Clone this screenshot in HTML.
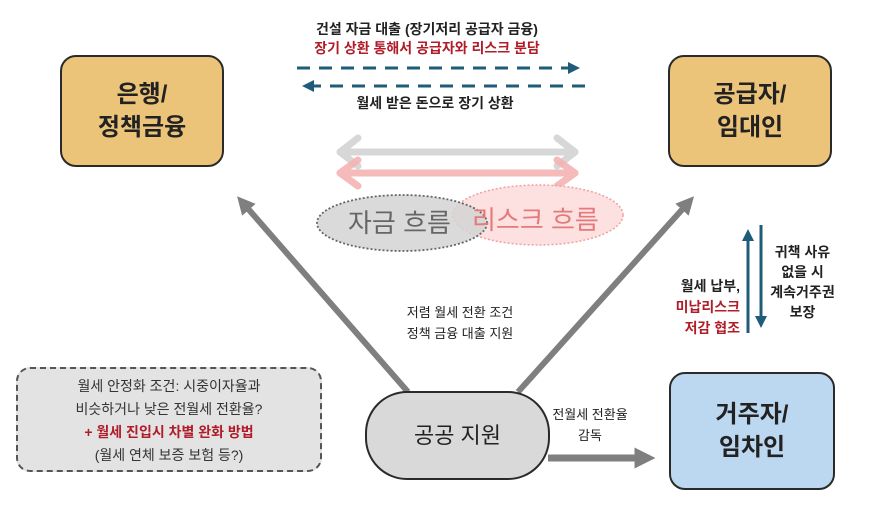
<!DOCTYPE html>
<html><head><meta charset="utf-8"><style>
html,body{margin:0;padding:0;background:#fff;}
body{width:893px;height:516px;position:relative;overflow:hidden;font-family:"Liberation Sans","Noto Sans CJK KR",sans-serif;}
.t{position:absolute;white-space:nowrap;text-align:center;font-weight:bold;color:#222;}
.box{position:absolute;border:2px solid #2a2a2a;border-radius:16px;display:flex;align-items:center;justify-content:center;text-align:center;font-weight:bold;font-size:24px;line-height:33px;color:#222;}
.red{color:#b01c28;}
</style></head><body>
<svg width="893" height="516" style="position:absolute;left:0;top:0">
<defs>
<marker id="ab" markerWidth="4" markerHeight="4" refX="2" refY="2" orient="auto" markerUnits="strokeWidth"><path d="M0,0 L4,2 L0,4z" fill="#1f5c7a"/></marker>
<marker id="ag" markerWidth="3" markerHeight="3" refX="1.5" refY="1.5" orient="auto" markerUnits="strokeWidth"><path d="M0,0 L3,1.5 L0,3z" fill="#7f7f7f"/></marker>
</defs>
<line x1="297" y1="68" x2="574" y2="68" stroke="#1f5c7a" stroke-width="3" stroke-dasharray="13,9" marker-end="url(#ab)"/>
<line x1="585" y1="86" x2="308" y2="86" stroke="#1f5c7a" stroke-width="3" stroke-dasharray="13,9" marker-end="url(#ab)"/>
<g stroke="#d3d3d3" stroke-width="7" fill="none" stroke-linecap="round" stroke-linejoin="round" opacity="0.9">
<line x1="340" y1="152" x2="575" y2="152"/><polyline points="358,138 340,152 358,166"/><polyline points="557,138 575,152 557,166"/></g>
<g stroke="#f4b3b3" stroke-width="7" fill="none" stroke-linecap="round" stroke-linejoin="round" opacity="0.9">
<line x1="340" y1="173" x2="575" y2="173"/><polyline points="358,160 340,173 358,186"/><polyline points="557,160 575,173 557,186"/></g>
<ellipse cx="538" cy="215" rx="85" ry="30" fill="#fde0e0" stroke="#f0a0a0" stroke-width="1.5" stroke-dasharray="2,2"/>
<ellipse cx="402" cy="223" rx="85" ry="28" fill="#d4d4d4" fill-opacity="0.85" stroke="#666" stroke-width="1.8" stroke-dasharray="2,2"/>
<line x1="408" y1="392" x2="243" y2="203" stroke="#7f7f7f" stroke-width="6" marker-end="url(#ag)"/>
<line x1="518" y1="392" x2="688" y2="203" stroke="#7f7f7f" stroke-width="6" marker-end="url(#ag)"/>
<line x1="548" y1="458" x2="645" y2="458" stroke="#7f7f7f" stroke-width="7" marker-end="url(#ag)"/>
<line x1="748" y1="333" x2="748" y2="235" stroke="#1f5c7a" stroke-width="3" marker-end="url(#ab)"/>
<line x1="761" y1="225" x2="761" y2="322" stroke="#1f5c7a" stroke-width="3" marker-end="url(#ab)"/>
</svg>
<div class="t" style="left:348px;top:203px;font-size:26px;font-weight:normal;color:#666;">자금 흐름</div>
<div class="t" style="left:472px;top:200px;font-size:26px;font-weight:normal;color:#e57a7a;">리스크 흐름</div>

<div class="t" style="left:297px;top:19px;width:260px;font-size:14px;">건설 자금 대출 (장기저리 공급자 금융)</div>
<div class="t red" style="left:297px;top:38px;width:260px;font-size:14px;">장기 상환 통해서 공급자와 리스크 분담</div>
<div class="t" style="left:340px;top:93px;width:190px;font-size:14px;">월세 받은 돈으로 장기 상환</div>

<div class="box" style="left:60px;top:55px;width:160px;height:108px;background:#ebc47a;">은행/<br>정책금융</div>
<div class="box" style="left:668px;top:55px;width:160px;height:108px;background:#ebc47a;">공급자/<br>임대인</div>
<div class="box" style="left:669px;top:372px;width:162px;height:114px;background:#bcd7f0;">거주자/<br>임차인</div>
<div class="box" style="left:365px;top:391px;width:181px;height:85px;background:#d9d9d9;border-radius:42px;font-size:22px;font-weight:normal;">공공 지원</div>

<div style="position:absolute;left:16px;top:367px;width:302px;height:101px;background:#e3e3e3;border:2px dashed #555;border-radius:14px;"></div>
<div class="t" style="left:16px;top:375px;width:306px;font-size:14px;line-height:23px;font-weight:normal;color:#333;">월세 안정화 조건: 시중이자율과<br>비슷하거나 낮은 전월세 전환율?<br><span class="red" style="font-weight:bold">+ 월세 진입시 차별 완화 방법</span><br>(월세 연체 보증 보험 등?)</div>

<div class="t" style="left:380px;top:302px;width:160px;font-size:13px;line-height:21px;font-weight:normal;">저렴 월세 전환 조건<br>정책 금융 대출 지원</div>
<div class="t" style="left:535px;top:404px;width:110px;font-size:13px;line-height:21px;font-weight:normal;">전월세 전환율<br>감독</div>

<div class="t" style="left:655px;top:276px;width:85px;font-size:14px;line-height:21px;text-align:right;">월세 납부,<br><span class="red">미납리스크<br>저감 협조</span></div>
<div class="t" style="left:765px;top:242px;width:75px;font-size:14px;line-height:20px;">귀책 사유<br>없을 시<br>계속거주권<br>보장</div>
</body></html>
